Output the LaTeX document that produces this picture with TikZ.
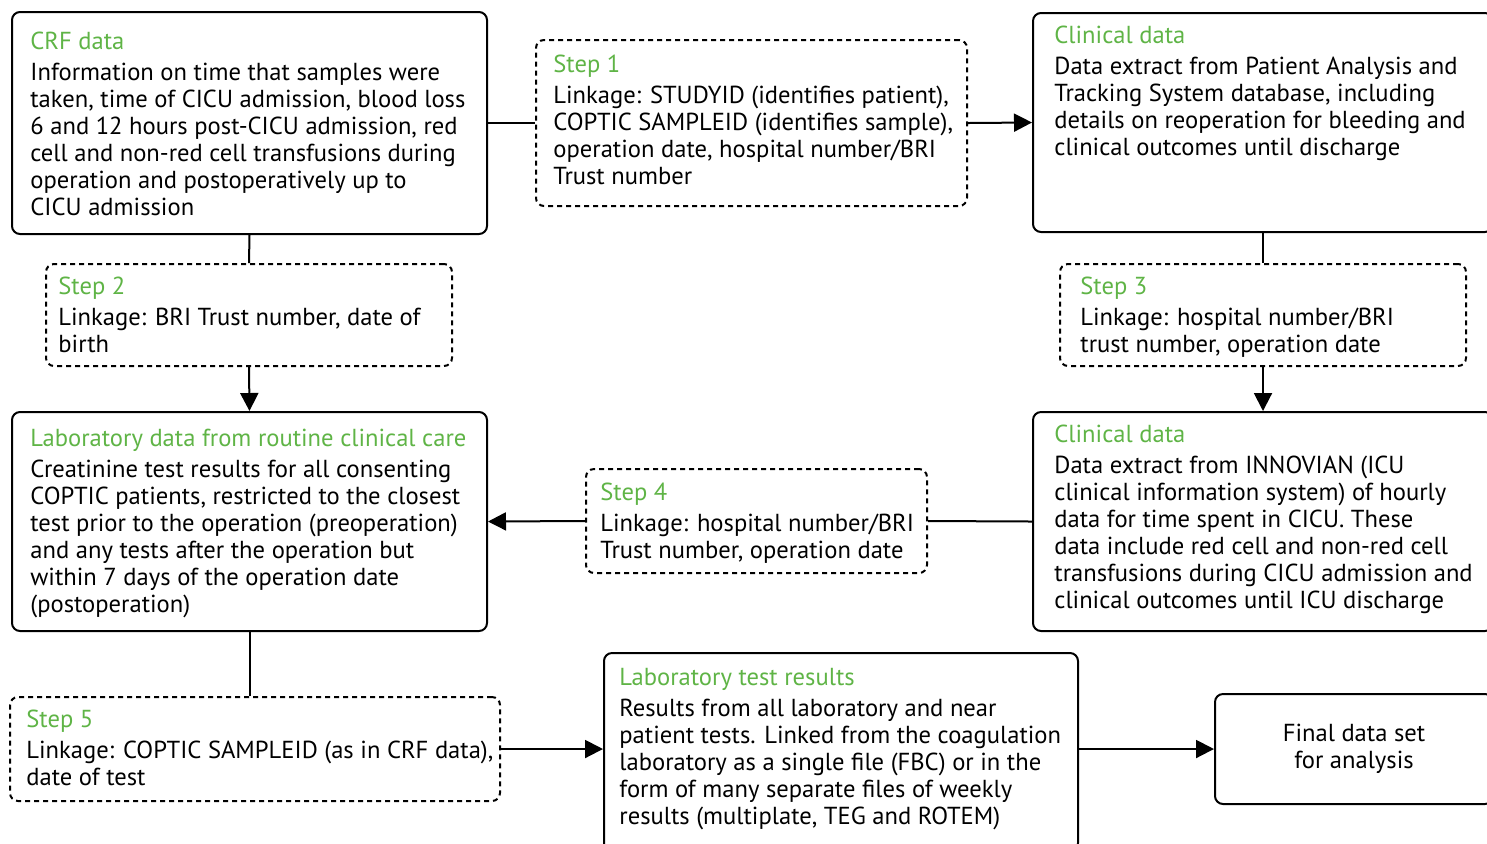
\documentclass[tikz,border=0pt]{standalone}
\usepackage{fontspec}
\setmainfont{PT Sans}
\usetikzlibrary{arrows.meta,positioning}
\newlength\px
\setlength\px{0.5pt}
\definecolor{titlegreen}{RGB}{95,180,70}
\newcommand\boxtitle[1]{\textcolor{titlegreen}{#1}}

\begin{document}
\begin{tikzpicture}[x=0.5pt, y=-0.5pt,
	frame/.style={draw, rounded corners=4pt, line width=1pt, anchor=north west, inner sep=0pt},
	stepframe/.style={frame, dash pattern=on 2.5pt off 2pt},
	boxtext/.style={anchor=north west, align=left, inner sep=0pt, font=\fontsize{12.3}{13.5}\selectfont},
	link/.style={line width=1pt},
	arrow/.style={link, -{Triangle[length=9pt,width=9pt]}}]
		\useasboundingbox (0,0) rectangle (1487,843);
		\clip (0,0) rectangle (1487,843);

		\node[frame, minimum width=475\px, minimum height=222\px] (crf) at (11,11) {};
		\node[stepframe, minimum width=431\px, minimum height=166\px] (step1) at (535,39) {};
		\node[frame, minimum width=460\px, minimum height=219\px] (clin1) at (1032,12) {};
		\node[stepframe, minimum width=406\px, minimum height=102\px] (step2) at (45,263) {};
		\node[stepframe, minimum width=406\px, minimum height=102\px] (step3) at (1059,263) {};
		\node[frame, minimum width=475\px, minimum height=219\px] (lab) at (11,411) {};
		\node[stepframe, minimum width=341\px, minimum height=104\px] (step4) at (585,468) {};
		\node[frame, minimum width=460\px, minimum height=219\px] (clin2) at (1032,411) {};
		\node[stepframe, minimum width=490\px, minimum height=104\px] (step5) at (9,696) {};
		\node[frame, minimum width=474\px, minimum height=198\px] (labtest) at (603,652) {};
		\node[frame, minimum width=278\px, minimum height=110\px, align=center,
			font=\fontsize{12.3}{13.5}\selectfont] (final) at (1214,693) {Final data set\\for analysis};

		\node[boxtext] (crftext) at ([xshift=19\px, yshift=-21\px]crf.north west) {\boxtitle{CRF data}\\[2pt]
			Information on time that samples were\\
			taken, time of CICU admission, blood loss\\
			6 and 12 hours post-CICU admission, red\\
			cell and non-red cell transfusions during\\
			operation and postoperatively up to\\
			CICU admission};
		\node[boxtext] (step1text) at ([xshift=18\px, yshift=-16\px]step1.north west) {\boxtitle{Step 1}\\[2pt]
			Linkage: STUDYID (identifies patient),\\
			COPTIC SAMPLEID (identifies sample),\\
			operation date, hospital number/BRI\\
			Trust number};
		\node[boxtext] (clin1text) at ([xshift=22\px, yshift=-14\px]clin1.north west) {\boxtitle{Clinical data}\\[2pt]
			Data extract from Patient Analysis and\\
			Tracking System database, including\\
			details on reoperation for bleeding and\\
			clinical outcomes until discharge};
		\node[boxtext] (step2text) at ([xshift=13\px, yshift=-14\px]step2.north west) {\boxtitle{Step 2}\\[2pt]
			Linkage: BRI Trust number, date of\\
			birth};
		\node[boxtext] (step3text) at ([xshift=21\px, yshift=-14\px]step3.north west) {\boxtitle{Step 3}\\[2pt]
			Linkage: hospital number/BRI\\
			trust number, operation date};
		\node[boxtext] (labtext) at ([xshift=19\px, yshift=-18\px]lab.north west) {\boxtitle{Laboratory data from routine clinical care}\\[2pt]
			Creatinine test results for all consenting\\
			COPTIC patients, restricted to the closest\\
			test prior to the operation (preoperation)\\
			and any tests after the operation but\\
			within 7 days of the operation date\\
			(postoperation)};
		\node[boxtext] (step4text) at ([xshift=15\px, yshift=-15\px]step4.north west) {\boxtitle{Step 4}\\[2pt]
			Linkage: hospital number/BRI\\
			Trust number, operation date};
		\node[boxtext] (clin2text) at ([xshift=22\px, yshift=-14\px]clin2.north west) {\boxtitle{Clinical data}\\[2pt]
			Data extract from INNOVIAN (ICU\\
			clinical information system) of hourly\\
			data for time spent in CICU. These\\
			data include red cell and non-red cell\\
			transfusions during CICU admission and\\
			clinical outcomes until ICU discharge};
		\node[boxtext] (step5text) at ([xshift=17\px, yshift=-14\px]step5.north west) {\boxtitle{Step 5}\\[2pt]
			Linkage: COPTIC SAMPLEID (as in CRF data),\\
			date of test};
		\node[boxtext] (labtesttext) at ([xshift=16\px, yshift=-16\px]labtest.north west) {\boxtitle{Laboratory test results}\\[2pt]
			Results from all laboratory and near\\
			patient tests. Linked from the coagulation\\
			laboratory as a single file (FBC) or in the\\
			form of many separate files of weekly\\
			results (multiplate, TEG and ROTEM)};

		\draw[link] (crf.east) -- (step1.west);
		\draw[arrow] (step1.east) -- (clin1.west);
		\draw[link] (crf.south) -- (step2.north);
		\draw[arrow] (step2.south) -- (lab.north);
		\draw[link] (clin1.south) -- (step3.north);
		\draw[arrow] (step3.south) -- (clin2.north);
		\draw[link] (clin2.west) -- (step4.east);
		\draw[arrow] (step4.west) -- (lab.east);
		\draw[link] (lab.south) -- (lab.south |- step5.north);
		\draw[arrow] (step5.east) -- (step5.east -| labtest.west);
		\draw[arrow] (labtest.east |- final.west) -- (final.west);
	\end{tikzpicture}
\end{document}
